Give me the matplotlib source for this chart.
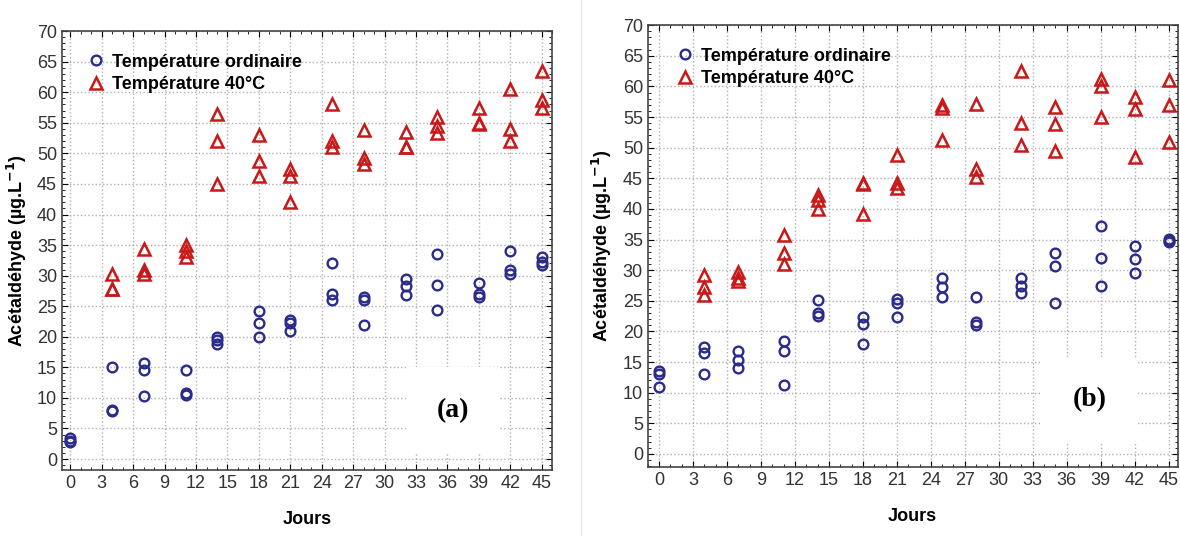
import matplotlib
matplotlib.use("Agg")
import matplotlib.pyplot as plt
from matplotlib.ticker import MultipleLocator

plt.rcParams['font.family'] = ['Liberation Sans', 'DejaVu Sans']

jours = [0, 4, 7, 11, 14, 18, 21, 25, 28, 32, 35, 39, 42, 45]

# panel (a): three replicates per day
ord_a = [[3.5, 3.0, 2.8], [15.0, 8.0, 7.8], [15.7, 14.5, 10.3], [14.5, 10.8, 10.4],
         [20.0, 19.5, 18.8], [24.2, 22.2, 20.0], [22.8, 22.3, 21.0], [32.0, 27.0, 26.0],
         [26.5, 26.0, 22.0], [29.5, 28.3, 26.8], [33.5, 28.5, 24.3], [28.8, 27.0, 26.5],
         [34.0, 31.0, 30.3], [33.0, 32.2, 31.8]]
t40_a = [[None, None, None], [30.3, 27.8, 27.8], [34.3, 31.0, 30.2], [35.0, 34.0, 33.0],
         [56.5, 52.0, 45.0], [53.0, 48.7, 46.3], [47.5, 46.3, 42.0], [58.0, 52.0, 51.0],
         [53.8, 49.3, 48.2], [53.5, 51.0, 51.0], [56.0, 54.5, 53.3], [57.5, 55.0, 54.8],
         [60.5, 54.0, 52.0], [63.5, 58.8, 57.5]]

# panel (b)
ord_b = [[13.5, 13.0, 11.0], [17.5, 16.5, 13.0], [16.8, 15.3, 14.0], [18.5, 16.8, 11.3],
         [25.2, 23.0, 22.5], [22.3, 21.2, 18.0], [25.3, 24.6, 22.4], [28.7, 27.3, 25.6],
         [25.6, 21.6, 21.0], [28.8, 27.5, 26.3], [32.8, 30.7, 24.7], [37.3, 32.0, 27.5],
         [34.0, 31.8, 29.6], [35.1, 34.8, 34.6]]
t40_b = [[None, None, None], [29.3, 27.2, 26.0], [29.7, 28.8, 28.2], [35.7, 32.8, 31.0],
         [42.3, 41.5, 40.0], [44.2, 44.0, 39.2], [48.8, 44.3, 43.5], [57.0, 56.5, 51.2],
         [57.2, 46.5, 45.2], [62.5, 54.0, 50.5], [56.7, 53.8, 49.5], [61.2, 60.0, 55.0],
         [58.3, 56.3, 48.5], [61.0, 57.0, 51.0]]

labels = ["Température ordinaire", "Température 40°C"]
panel_tags = ["(a)", "(b)"]


def flatten(days, groups):
    xs, ys = [], []
    for d, g in zip(days, groups):
        for v in g:
            if v is not None:
                xs.append(d)
                ys.append(v)
    return xs, ys


def draw(ax, ordin, t40, tag, xlim, ylim, tagpos, legx):
    x1, y1 = flatten(jours, ordin)
    x2, y2 = flatten(jours, t40)
    ax.plot(x1, y1, 'o', mfc='none', mec='#2b2b8c', mew=1.7, ms=7, label=labels[0])
    ax.plot(x2, y2, '^', mfc='none', mec='#c81818', mew=1.8, ms=8, label=labels[1])
    ax.set_xlim(*xlim)
    ax.set_ylim(*ylim)
    ax.xaxis.set_major_locator(MultipleLocator(3))
    ax.xaxis.set_minor_locator(MultipleLocator(1))
    ax.yaxis.set_major_locator(MultipleLocator(5))
    ax.yaxis.set_minor_locator(MultipleLocator(1))
    ax.grid(True, which='major', linestyle=':', color='#b0b0b0', linewidth=1)
    ax.tick_params(which='both', direction='in', top=True, right=True, labelsize=13,
                   labelcolor='#333333')
    ax.tick_params(which='major', length=4)
    ax.tick_params(which='minor', length=2.5)
    for s in ax.spines.values():
        s.set_color('#444444')
        s.set_linewidth(1.2)
    ax.set_xlabel("Jours", fontsize=13, fontweight='bold', labelpad=14)
    ax.set_ylabel("Acétaldéhyde (µg.L$^{\\mathbf{-1}}$)", fontsize=13, fontweight='bold', labelpad=6)
    ax.legend(loc='upper left', frameon=False, prop={'weight': 'bold', 'size': 13},
              handletextpad=0.3, labelspacing=0.3, borderaxespad=0.6, handlelength=1.2,
              bbox_to_anchor=(legx, 0.99))
    ax.text(tagpos[0], tagpos[1], tag, fontsize=20, fontweight='bold', family='Liberation Serif',
            ha='center', va='center', zorder=5,
            bbox=dict(facecolor='white', edgecolor='none', pad=22))


fig = plt.figure(figsize=(11.8, 5.36), dpi=100)
ax1 = fig.add_axes([0.0525, 0.123, 0.4155, 0.819])
ax2 = fig.add_axes([0.549, 0.129, 0.449, 0.824])

draw(ax1, ord_a, t40_a, panel_tags[0], (-0.8, 46), (-1.8, 70), (36.5, 8), 0.01)
draw(ax2, ord_b, t40_b, panel_tags[1], (-1.0, 45.8), (-2.1, 70), (38, 8.8), 0.015)

fig.add_artist(plt.Line2D([0.492, 0.492], [0.0, 1.0], color='#e8e8e8', linewidth=1))

fig.savefig("out.png", dpi=100)
